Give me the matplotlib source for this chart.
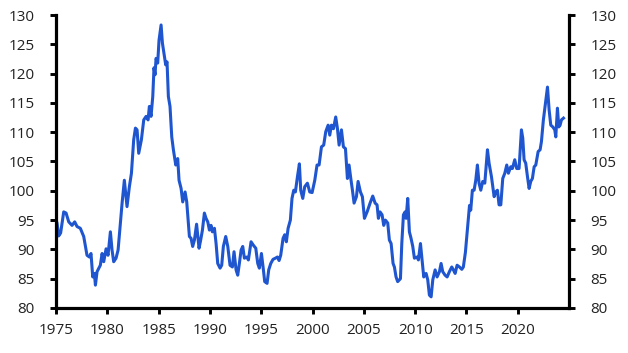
import matplotlib.pyplot as plt

plt.rcParams['font.family'] = ['Open Sans', 'DejaVu Sans']

# decimal year, index level
years = [
    1975.00, 1975.10, 1975.26, 1975.45, 1975.75, 1975.98, 1976.24, 1976.56, 1976.82, 1977.05,
    1977.37, 1977.70, 1978.02, 1978.25, 1978.41, 1978.58, 1978.74, 1978.84, 1979.00, 1979.32,
    1979.49, 1979.65, 1979.88, 1980.07, 1980.30, 1980.46, 1980.62, 1980.85, 1981.05, 1981.27,
    1981.44, 1981.66, 1981.92, 1982.15, 1982.35, 1982.57, 1982.74, 1982.90, 1983.06, 1983.32,
    1983.55, 1983.78, 1983.97, 1984.10, 1984.26, 1984.43, 1984.55, 1984.65, 1984.75, 1984.91,
    1985.04, 1985.24, 1985.37, 1985.53, 1985.69, 1985.82, 1985.95, 1986.11, 1986.28, 1986.44,
    1986.67, 1986.86, 1986.99, 1987.19, 1987.35, 1987.58, 1987.74, 1987.90, 1988.00, 1988.16,
    1988.32, 1988.49, 1988.70, 1988.94, 1989.10, 1989.27, 1989.46, 1989.62, 1989.79, 1989.95,
    1990.11, 1990.24, 1990.44, 1990.60, 1990.76, 1990.99, 1991.15, 1991.31, 1991.54, 1991.74,
    1991.96, 1992.19, 1992.35, 1992.55, 1992.71, 1992.87, 1993.04, 1993.20, 1993.36, 1993.59,
    1993.75, 1994.01, 1994.24, 1994.47, 1994.66, 1994.82, 1995.02, 1995.18, 1995.34, 1995.57,
    1995.73, 1995.93, 1996.15, 1996.38, 1996.58, 1996.74, 1996.90, 1997.13, 1997.29, 1997.45,
    1997.62, 1997.84, 1998.00, 1998.17, 1998.33, 1998.53, 1998.72, 1998.85, 1999.05, 1999.24,
    1999.50, 1999.73, 1999.96, 2000.22, 2000.44, 2000.64, 2000.87, 2001.09, 2001.29, 2001.52,
    2001.68, 2001.84, 2002.04, 2002.26, 2002.43, 2002.59, 2002.82, 2003.01, 2003.21, 2003.40,
    2003.56, 2003.73, 2003.89, 2004.05, 2004.28, 2004.44, 2004.67, 2004.86, 2005.06, 2005.32,
    2005.61, 2005.87, 2006.10, 2006.29, 2006.42, 2006.58, 2006.78, 2006.94, 2007.10, 2007.33,
    2007.49, 2007.66, 2007.85, 2007.98, 2008.14, 2008.30, 2008.57, 2008.70, 2008.86, 2009.02,
    2009.12, 2009.28, 2009.44, 2009.60, 2009.77, 2009.93, 2010.19, 2010.32, 2010.52, 2010.68,
    2010.84, 2011.07, 2011.23, 2011.39, 2011.56, 2011.72, 2011.95, 2012.14, 2012.37, 2012.53,
    2012.69, 2012.92, 2013.12, 2013.34, 2013.57, 2013.73, 2013.90, 2014.09, 2014.32, 2014.55,
    2014.70, 2014.90, 2015.05, 2015.20, 2015.30, 2015.42, 2015.58, 2015.75, 2015.91, 2016.07,
    2016.23, 2016.40, 2016.59, 2016.79, 2017.05, 2017.21, 2017.44, 2017.70, 2017.86, 2018.02,
    2018.18, 2018.35, 2018.54, 2018.74, 2018.93, 2019.09, 2019.32, 2019.48, 2019.71, 2019.90,
    2020.13, 2020.36, 2020.49, 2020.62, 2020.78, 2020.95, 2021.11, 2021.27, 2021.43, 2021.60,
    2021.76, 2021.99, 2022.18, 2022.31, 2022.50, 2022.70, 2022.90, 2023.06, 2023.22, 2023.42,
    2023.61, 2023.71, 2023.87, 2024.00, 2024.13, 2024.26, 2024.46,
]
index = [
    95.0, 94.5, 92.3, 92.8, 96.4, 96.2, 94.7, 94.1, 94.7, 93.9,
    93.6, 92.2, 89.0, 88.7, 89.3, 85.3, 85.9, 83.9, 86.2, 87.3,
    89.3, 87.9, 90.1, 89.0, 93.0, 89.9, 87.9, 88.5, 89.9, 94.5,
    97.9, 101.8, 97.3, 100.7, 103.0, 108.7, 110.7, 110.4, 106.4, 108.7,
    112.1, 112.7, 112.1, 114.4, 112.7, 116.1, 121.0, 119.8, 122.6, 121.8,
    125.7, 128.3, 125.2, 123.4, 121.5, 122.0, 116.1, 114.4, 109.2, 107.0,
    104.4, 105.5, 101.8, 100.4, 98.1, 99.8, 98.1, 94.5, 92.2, 91.9,
    90.5, 91.6, 94.3, 90.2, 91.6, 93.3, 96.2, 95.3, 94.7, 93.3,
    94.1, 93.0, 93.6, 91.0, 87.6, 86.8, 87.3, 90.5, 92.2, 90.5,
    87.3, 87.0, 89.6, 86.5, 85.6, 87.6, 89.9, 90.5, 88.5, 88.7,
    88.2, 91.3, 90.7, 90.2, 87.6, 86.8, 89.3, 87.0, 84.5, 84.2,
    86.5, 87.6, 88.3, 88.5, 88.7, 88.1, 89.0, 91.9, 92.5, 91.3,
    93.6, 95.0, 98.7, 100.1, 99.8, 102.4, 104.6, 100.1, 98.7, 100.7,
    101.3, 99.8, 99.7, 101.8, 104.4, 104.4, 107.5, 107.8, 110.1, 111.2,
    109.5, 111.2, 110.6, 112.6, 110.6, 107.8, 110.4, 107.5, 107.2, 102.1,
    104.4, 102.1, 100.1, 97.9, 99.0, 101.6, 99.8, 99.0, 95.3, 96.4,
    97.9, 99.1, 97.9, 97.6, 95.3, 96.4, 95.9, 94.1, 95.0, 94.5,
    91.6, 91.0, 87.6, 87.0, 85.3, 84.5, 85.0, 91.0, 95.9, 96.4,
    95.3, 98.7, 93.0, 91.9, 90.5, 88.5, 88.7, 88.2, 91.0, 88.2,
    85.3, 85.9, 84.8, 82.2, 81.9, 84.8, 86.5, 85.3, 86.2, 87.6,
    86.2, 85.6, 85.3, 86.2, 87.0, 86.5, 85.9, 87.3, 87.0, 86.6,
    87.0, 89.5, 92.5, 95.5, 97.5, 96.7, 100.1, 100.1, 101.8, 104.4,
    101.3, 100.1, 101.6, 101.3, 107.0, 104.7, 102.4, 99.0, 99.8, 100.1,
    97.6, 97.6, 102.1, 103.0, 104.4, 103.0, 104.1, 103.8, 105.3, 103.8,
    103.8, 110.4, 109.0, 105.3, 104.7, 102.4, 100.4, 101.6, 102.1, 104.1,
    104.4, 106.7, 107.0, 108.4, 112.1, 114.9, 117.7, 113.8, 111.2, 110.9,
    110.4, 109.2, 114.1, 110.9, 111.2, 112.1, 112.4,
]

fig = plt.figure(figsize=(6.28, 3.53), dpi=100)
ax = fig.add_axes([0.0892, 0.1275, 0.8169, 0.83])

ax.plot(years, index, color='#1f56d0', lw=2.2, solid_joinstyle='round')

ax.set_xlim(1975, 2025)
ax.set_ylim(80, 130)
ax.set_xticks(range(1975, 2025, 5))
ax.set_yticks(range(80, 131, 5))

ax.spines['top'].set_visible(False)
for s in ['left', 'right', 'bottom']:
    ax.spines[s].set_linewidth(2.3)
    ax.spines[s].set_color('black')

ax.tick_params(axis='both', direction='out', length=4.5, width=2.1, colors='black',
               labelcolor='#222222', labelsize=11)
ax.tick_params(axis='y', right=True, labelright=True, pad=11)
ax.tick_params(axis='x', pad=6)

fig.savefig('out.png', dpi=100)
